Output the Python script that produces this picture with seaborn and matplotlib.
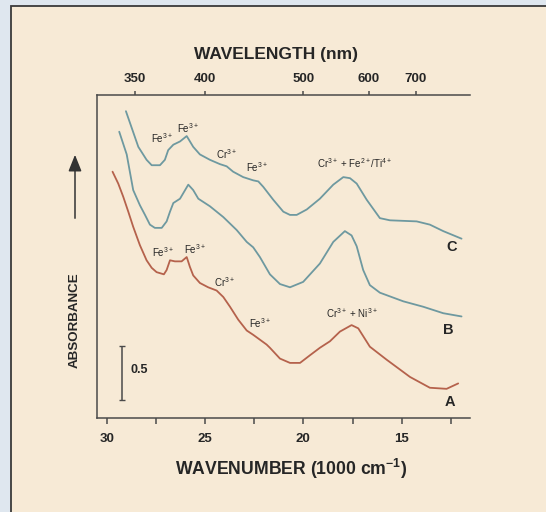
import numpy as np
import pandas as pd
import matplotlib
matplotlib.use("Agg")
import matplotlib.pyplot as plt
import seaborn as sns
from matplotlib.patches import Rectangle, FancyArrowPatch

# ---- data (wavenumber in 1000 cm^-1, absorbance) ----
wn_C = [29.02, 28.39, 27.97, 27.71, 27.29, 27.04, 26.87, 26.61, 26.27, 25.93, 25.60, 25.26, 24.75,
        24.24, 23.90, 23.57, 23.06, 22.55, 22.29, 22.04, 21.53, 21.02, 20.68, 20.34, 19.83, 19.16,
        18.48, 17.97, 17.63, 17.29, 16.78, 16.11, 15.60, 14.24, 13.57, 12.89, 11.96]
ab_C = [2.84, 2.51, 2.39, 2.34, 2.34, 2.39, 2.48, 2.53, 2.56, 2.61, 2.51, 2.44, 2.39,
        2.35, 2.33, 2.28, 2.23, 2.20, 2.19, 2.14, 2.02, 1.91, 1.88, 1.88, 1.93, 2.03,
        2.16, 2.23, 2.22, 2.17, 2.02, 1.85, 1.83, 1.82, 1.79, 1.73, 1.66]

wn_B = [29.36, 28.98, 28.65, 28.31, 28.05, 27.80, 27.55, 27.20, 26.95, 26.78, 26.61, 26.27, 25.85,
        25.60, 25.34, 24.75, 24.07, 23.39, 22.88, 22.55, 22.21, 21.70, 21.19, 20.68, 20.01, 19.16,
        18.48, 17.89, 17.55, 17.29, 16.96, 16.62, 16.11, 14.92, 13.91, 12.89, 11.96]
ab_B = [2.65, 2.44, 2.11, 1.97, 1.88, 1.79, 1.76, 1.76, 1.82, 1.91, 1.99, 2.03, 2.16,
        2.11, 2.03, 1.96, 1.86, 1.74, 1.63, 1.58, 1.49, 1.33, 1.24, 1.21, 1.26, 1.43,
        1.63, 1.73, 1.69, 1.59, 1.37, 1.23, 1.16, 1.08, 1.03, 0.97, 0.94]

wn_A = [29.70, 29.41, 29.16, 28.90, 28.65, 28.31, 27.97, 27.71, 27.46, 27.09, 26.95, 26.78, 26.53,
        26.19, 25.93, 25.77, 25.60, 25.26, 24.84, 24.41, 24.07, 23.73, 23.31, 22.88, 22.55, 21.87,
        21.70, 21.19, 20.68, 20.17, 19.67, 19.16, 18.65, 18.14, 17.55, 17.21, 16.62, 15.77, 14.58,
        13.57, 12.72, 12.13]
ab_A = [2.28, 2.17, 2.05, 1.91, 1.77, 1.60, 1.46, 1.39, 1.35, 1.33, 1.37, 1.46, 1.45,
        1.45, 1.49, 1.40, 1.32, 1.25, 1.21, 1.18, 1.12, 1.03, 0.91, 0.81, 0.77, 0.68,
        0.65, 0.55, 0.51, 0.51, 0.58, 0.65, 0.71, 0.80, 0.86, 0.83, 0.66, 0.54, 0.38,
        0.28, 0.27, 0.32]

bottom_ticks = [30, 27.5, 25, 22.5, 20, 17.5, 15, 12.5]
bottom_labels = ["30", "", "25", "", "20", "", "15", ""]
top_ticks = [350, 400, 500, 600, 700]

peak_labels = [
    ("Fe$^{3+}$", 27.20, 2.59), ("Fe$^{3+}$", 25.85, 2.68), ("Cr$^{3+}$", 23.90, 2.44),
    ("Fe$^{3+}$", 22.38, 2.32), ("Cr$^{3+}$ + Fe$^{2+}$/Ti$^{4+}$", 17.38, 2.36),
    ("Fe$^{3+}$", 27.12, 1.54), ("Fe$^{3+}$", 25.51, 1.56), ("Cr$^{3+}$", 23.99, 1.26),
    ("Fe$^{3+}$", 22.21, 0.88), ("Cr$^{3+}$ + Ni$^{3+}$", 17.55, 0.97),
]
curve_names = [("C", 12.46, 1.58), ("B", 12.64, 0.815), ("A", 12.55, 0.15)]

df = pd.concat([
    pd.DataFrame({"wn": wn_A, "ab": ab_A, "s": "A"}),
    pd.DataFrame({"wn": wn_B, "ab": ab_B, "s": "B"}),
    pd.DataFrame({"wn": wn_C, "ab": ab_C, "s": "C"}),
])

sns.set_theme(style="white")
plt.rcParams["font.family"] = ["Liberation Sans", "DejaVu Sans"]
plt.rcParams["mathtext.fontset"] = "custom"
plt.rcParams["mathtext.rm"] = "Liberation Sans"
plt.rcParams["mathtext.bf"] = "Liberation Sans:bold"
plt.rcParams["mathtext.it"] = "Liberation Sans:italic"

W, H = 546, 512
BEIGE = "#f7ead6"
TXT = "#262626"
AXC = "#4a4a4a"
fig = plt.figure(figsize=(W / 100, H / 100), dpi=100, facecolor="#dfe7ef")
fig.patches.append(Rectangle((10.5 / W, -0.1), 1.2, 0.1 + (H - 6) / H, transform=fig.transFigure,
                             facecolor=BEIGE, edgecolor="#3a3a3a", lw=1.3, zorder=-10))

ax = fig.add_axes([97 / W, 1 - 418 / H, (470 - 97) / W, (418 - 95) / H])
ax.set_facecolor("none")
ax.set_zorder(2)

sns.lineplot(data=df, x="wn", y="ab", hue="s", palette={"A": "#b5624c", "B": "#6e99a0", "C": "#6e99a0"},
             estimator=None, sort=False, legend=False, lw=1.3, ax=ax)

ax.set_xlim(30.49, 11.53)
ax.set_ylim(0, 2.99)
ax.set_xlabel("")
ax.set_ylabel("")
for s in ["right", "top"]:
    ax.spines[s].set_visible(False)
for s in ["left", "bottom"]:
    ax.spines[s].set_color(AXC)
    ax.spines[s].set_linewidth(1.1)
ax.set_yticks([])
ax.set_xticks(bottom_ticks)
ax.set_xticklabels(bottom_labels)
ax.tick_params(axis="x", direction="out", length=4, width=1.1, color=AXC, pad=7,
               labelsize=9.5, labelcolor=TXT, bottom=True)
for t in ax.get_xticklabels():
    t.set_fontweight("bold")


def inv(x):
    x = np.asarray(x, dtype=float)
    with np.errstate(divide="ignore"):
        return 1e4 / x


sec = ax.secondary_xaxis("top", functions=(inv, inv))
sec.set_xticks(top_ticks)
sec.set_xticklabels([str(t) for t in top_ticks])
sec.spines["top"].set_color(AXC)
sec.spines["top"].set_linewidth(1.1)
sec.tick_params(axis="x", direction="out", length=3, width=1.1, color=AXC, pad=4,
                labelsize=9.5, labelcolor=TXT)
for t in sec.get_xticklabels():
    t.set_fontweight("bold")

for txt, x, y in peak_labels:
    ax.text(x, y, txt, fontsize=7, color=TXT, ha="center", va="center")
for txt, x, y in curve_names:
    ax.text(x, y, txt, fontsize=10.5, fontweight="bold", color=TXT, ha="center", va="center")

# scale bar (0.5 absorbance)
ax.errorbar([29.22], [0.417], yerr=[0.25], color=AXC, capsize=2.5, elinewidth=1.1, capthick=1.0, fmt="none")
ax.text(28.35, 0.44, "0.5", fontsize=9, fontweight="bold", color=TXT, ha="center", va="center")

fig.text(276 / W, 1 - 54 / H, "WAVELENGTH (nm)", fontsize=12.5, fontweight="bold", color=TXT,
         ha="center", va="center")
fig.text(291 / W, 1 - 469 / H, "WAVENUMBER (1000 cm$^{\\mathbf{-1}}$)", fontsize=12.7, fontweight="bold",
         color=TXT, ha="center", va="center")
fig.text(75 / W, 1 - 320 / H, "ABSORBANCE", fontsize=9.6, fontweight="bold", color=TXT,
         ha="center", va="center", rotation=90)
fig.add_artist(FancyArrowPatch((75 / W, 1 - 221 / H), (75 / W, 1 - 152 / H),
                               transform=fig.transFigure, arrowstyle="-|>,head_length=4,head_width=1.6",
                               color="#333333", lw=1.1, mutation_scale=2.5))

fig.savefig("out.png", dpi=100, facecolor=fig.get_facecolor())
